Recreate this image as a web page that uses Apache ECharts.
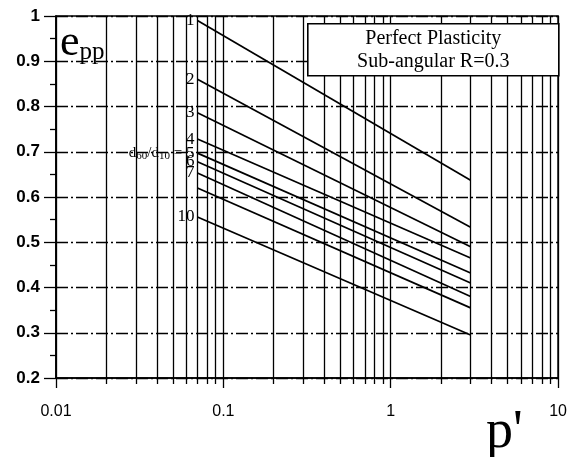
<!DOCTYPE html>
<html>
<head>
<meta charset="utf-8">
<script src="https://cdn.jsdelivr.net/npm/echarts@6/dist/echarts.min.js"></script>
<style>
  html, body { margin: 0; padding: 0; background: #fff; }
  #chart { width: 570px; height: 457px; }
</style>
</head>
<body>
<div id="chart"></div>
<script>
// d60/d10 ratio of each curve
const ratios = ['1', '2', '3', '4', '5', '6', '7', '8', '10'];
const labelledRatios = ['1', '2', '3', '4', '5', '6', '7', '10'];
// mean effective stress range covered by each curve
const pStart = 0.07;
const pEnd = 3;
// e_pp at start and end of each curve
const eStart = [0.99, 0.86, 0.786, 0.728, 0.697, 0.678, 0.653, 0.620, 0.556];
const eEnd   = [0.637, 0.533, 0.49, 0.465, 0.432, 0.41, 0.38, 0.355, 0.295];
// axis ticks
const xDecades = [0.01, 0.1, 1, 10];
const yMin = 0.2, yMax = 1, yStep = 0.1;

const minorX = [];
for (let d = 0; d < xDecades.length - 1; d++) {
  for (let k = 2; k <= 9; k++) minorX.push(+(xDecades[d] * k).toPrecision(3));
}

const serif = '"Liberation Serif", "Times New Roman", serif';
const sans = '"Liberation Sans", Arial, sans-serif';

const series = ratios.map((r, i) => ({
  type: 'line',
  name: r,
  data: [[pStart, eStart[i]], [pEnd, eEnd[i]]],
  symbol: 'circle',
  symbolSize: 0,
  showSymbol: true,
  lineStyle: { color: '#000', width: 1.7 },
  itemStyle: { color: '#000' },
  z: 5,
  label: {
    show: labelledRatios.includes(r),
    position: 'left',
    distance: 3,
    color: '#000',
    formatter: p => p.dataIndex === 0
      ? (r === '5' ? '{d|d}{s|60}{d|/d}{s|10}{d| = }{n|5}' : '{n|' + r + '}')
      : '',
    rich: {
      n: { fontFamily: serif, fontSize: 17, color: '#000' },
      d: { fontFamily: serif, fontSize: 15, color: '#000' },
      s: { fontFamily: serif, fontSize: 11, color: '#000', padding: [6, 0, 0, 0] }
    }
  }
}));

// vertical grid at the 2..9 positions of each decade
series.push({
  type: 'line',
  data: [],
  silent: true,
  markLine: {
    silent: true,
    symbol: 'none',
    label: { show: false },
    lineStyle: { color: '#000', type: 'solid', width: 1.3 },
    data: minorX.map(v => ({ xAxis: v }))
  }
});

const chart = echarts.init(document.getElementById('chart'), null, { renderer: 'canvas' });
chart.setOption({
  animation: false,
  backgroundColor: '#fff',
  grid: {
    left: 56, right: 10, top: 16, bottom: 79,
    show: true, borderColor: '#000', borderWidth: 1.6, backgroundColor: 'transparent'
  },
  xAxis: [{
    type: 'log',
    logBase: 10,
    min: xDecades[0],
    max: xDecades[xDecades.length - 1],
    axisLine: { show: true, lineStyle: { color: '#000', width: 1.6 } },
    axisTick: { show: true, length: 10, lineStyle: { color: '#000', width: 1.3 } },
    axisLabel: {
      margin: 26, fontFamily: sans, fontSize: 16, color: '#000',
      formatter: v => String(+v.toPrecision(3))
    },
    splitLine: { show: true, lineStyle: { color: '#000', type: 'solid', width: 1.3 } }
  }, {
    type: 'log',
    logBase: 10,
    min: xDecades[0],
    max: xDecades[xDecades.length - 1],
    position: 'bottom',
    axisLine: { show: false },
    axisLabel: { show: false },
    splitLine: { show: false },
    axisTick: { show: true, length: 6, customValues: minorX, lineStyle: { color: '#000', width: 1.3 } }
  }],
  yAxis: {
    type: 'value',
    min: yMin, max: yMax, interval: yStep,
    axisLine: { show: true, lineStyle: { color: '#000', width: 1.6 } },
    axisTick: { show: true, length: 12, lineStyle: { color: '#000', width: 1.3 } },
    minorTick: { show: true, splitNumber: 2, length: 6, lineStyle: { color: '#000', width: 1.3 } },
    axisLabel: { margin: 16, fontFamily: sans, fontSize: 17, fontWeight: 'bold', color: '#000' },
    splitLine: { show: true, lineStyle: { color: '#000', type: [12, 3, 2, 3], width: 1.3 } }
  },
  series: series,
  graphic: [
    {
      type: 'group',
      left: 307, top: 23,
      children: [
        { type: 'rect', shape: { x: 0, y: 0, width: 251, height: 52 },
          style: { fill: '#fff', stroke: '#000', lineWidth: 1.6 }, z: 10 },
        { type: 'text', x: 125.5, y: 26, z: 11,
          style: { text: 'Perfect Plasticity\nSub-angular R=0.3', fontFamily: serif, fontSize: 20,
                   lineHeight: 23, fill: '#000', align: 'center', verticalAlign: 'middle' } }
      ]
    },
    {
      type: 'text', left: 60, top: 21, z: 10,
      style: {
        text: '{e|e}{s|pp}',
        rich: {
          e: { fontFamily: serif, fontSize: 44, fill: '#000', verticalAlign: 'bottom' },
          s: { fontFamily: serif, fontSize: 25, fill: '#000', verticalAlign: 'bottom' }
        }
      }
    },
    {
      type: 'text', left: 486, top: 406, z: 10,
      style: { text: "p'", fontFamily: serif, fontSize: 54, fill: '#000' }
    }
  ]
});
</script>
</body>
</html>
